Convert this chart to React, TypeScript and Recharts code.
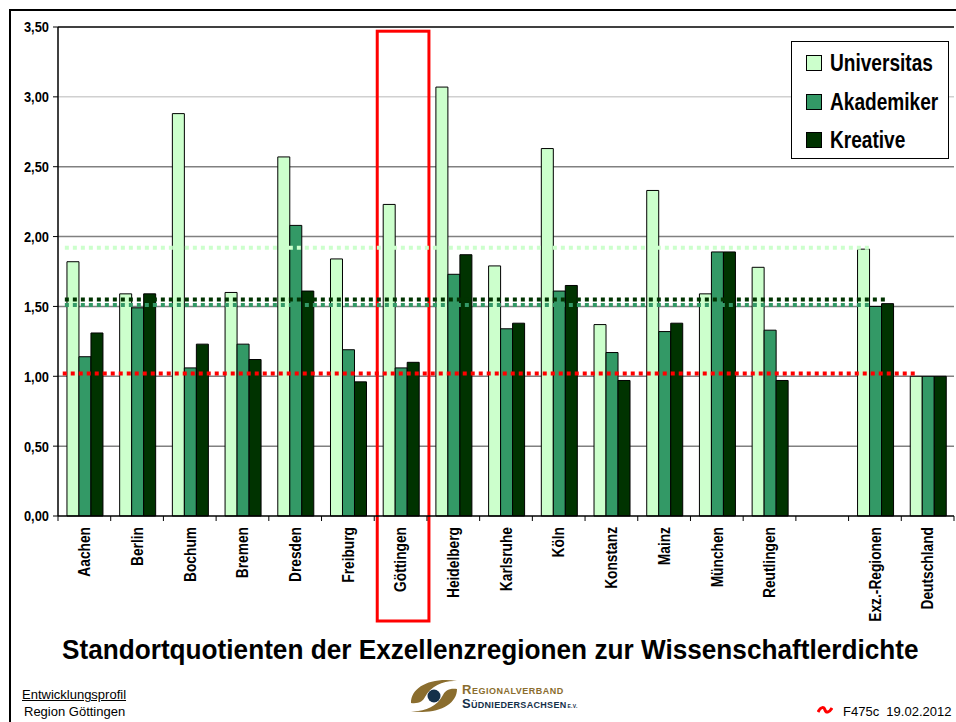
import { Bar, CartesianGrid, ComposedChart, ReferenceArea, ReferenceLine, XAxis, YAxis } from 'recharts'

const regions = [
  'Aachen',
  'Berlin',
  'Bochum',
  'Bremen',
  'Dresden',
  'Freiburg',
  'Göttingen',
  'Heidelberg',
  'Karlsruhe',
  'Köln',
  'Konstanz',
  'Mainz',
  'München',
  'Reutlingen',
  ' ',
  'Exz.-Regionen',
  'Deutschland',
]
const universitas = [1.82, 1.59, 2.88, 1.6, 2.57, 1.84, 2.23, 3.07, 1.79, 2.63, 1.37, 2.33, 1.59, 1.78, null, 1.91, 1.0]
const akademiker = [1.14, 1.49, 1.06, 1.23, 2.08, 1.19, 1.06, 1.73, 1.34, 1.61, 1.17, 1.32, 1.89, 1.33, null, 1.5, 1.0]
const kreative = [1.31, 1.59, 1.23, 1.12, 1.61, 0.96, 1.1, 1.87, 1.38, 1.65, 0.97, 1.38, 1.89, 0.97, null, 1.52, 1.0]

const seriesKeys = ['universitas', 'akademiker', 'kreative']
const seriesNames = ['Universitas', 'Akademiker', 'Kreative']
const seriesColors = ['#ccffcc', '#339966', '#003300']

const yTicks = [0, 0.5, 1, 1.5, 2, 2.5, 3, 3.5]
const gridColors = ['none', '#808080', '#808080', '#808080', '#808080', '#808080', '#d0d0d0', '#000000']

// dotted average lines, start/end given in category slots
const avgValues = [1.92, 1.51, 1.55, 1.02]
const avgFrom = [0.13, 0.13, 0.13, 0.09]
const avgTo = [15.41, 15.41, 15.72, 16.27]
const avgColors = ['#ccffcc', '#339966', '#003300', '#ff0000']

const highlighted = 'Göttingen'

const data = regions.map((region, i) => ({
  region,
  universitas: universitas[i],
  akademiker: akademiker[i],
  kreative: kreative[i],
}))

const CHART_W = 956
const MARGIN = { top: 27, right: 2, left: 10, bottom: 0 }
const Y_AXIS_W = 48
const slotW = (CHART_W - MARGIN.left - MARGIN.right - Y_AXIS_W) / regions.length

const sans = "'Liberation Sans', Arial, sans-serif"
const fmt = (v: number) => v.toFixed(2).replace('.', ',')

function RegionTick({ x, y, payload, index }: { x: number; y: number; payload: { value: string }; index: number }) {
  const axisY = y - 8
  const last = index === regions.length - 1
  return (
    <g>
      <line x1={x - slotW / 2} x2={x - slotW / 2} y1={axisY} y2={axisY + 5} stroke="#000" />
      {last ? <line x1={x + slotW / 2} x2={x + slotW / 2} y1={axisY} y2={axisY + 5} stroke="#000" /> : null}
      <text
        transform={`translate(${x},${y + 3}) rotate(-90) scale(0.86,1)`}
        textAnchor="end"
        dy="0.36em"
        fontFamily={sans}
        fontWeight="bold"
        fontSize={16}
        fill="#000"
      >
        {payload.value}
      </text>
    </g>
  )
}

function ValueTick({ x, y, payload }: { x: number; y: number; payload: { value: number } }) {
  return (
    <text
      transform={`translate(${x},${y}) scale(0.86,1)`}
      textAnchor="end"
      dy="0.36em"
      fontFamily={sans}
      fontWeight="bold"
      fontSize={15}
      fill="#000"
    >
      {fmt(payload.value)}
    </text>
  )
}

function Logo() {
  return (
    <svg width={48} height={48} viewBox="0 0 48 48" style={{ position: 'absolute', left: 411, top: 673 }}>
      <path d="M0 30 C0 14 20 4 46 8 C34 7 20 12 14 24 C12 28 8 31 0 30 Z" fill="#8a6d2e" />
      <path d="M46 16 C46 32 26 42 0 38 C12 39 26 34 32 22 C34 18 38 15 46 16 Z" fill="#8a6d2e" />
      <circle cx={23} cy={23} r={6.5} fill="#14304a" />
    </svg>
  )
}

export default function App() {
  return (
    <div style={{ position: 'absolute', left: 0, top: 0, width: 956, height: 722, background: '#fff', overflow: 'hidden' }}>
      <div
        style={{
          position: 'absolute',
          left: 9,
          top: 9,
          width: 960,
          height: 720,
          borderTop: '2px solid #000',
          borderLeft: '2px solid #000',
        }}
      />
      <div style={{ position: 'absolute', left: 0, top: 0 }}>
        <ComposedChart
          width={CHART_W}
          height={640}
          data={data}
          margin={MARGIN}
          barCategoryGap="17%"
          barGap={0}
        >
          <CartesianGrid
            vertical={false}
            horizontal={(p: any) => (
              <line
                key={p.key}
                x1={p.x1}
                x2={p.x2}
                y1={p.y1}
                y2={p.y2}
                stroke={gridColors[p.index] ?? '#808080'}
                strokeWidth={1.5}
              />
            )}
          />
          <XAxis
            dataKey="region"
            interval={0}
            height={124}
            tickSize={6}
            tickMargin={2}
            tickLine={false}
            axisLine={{ stroke: '#000', strokeWidth: 1.5 }}
            tick={(props: any) => <RegionTick {...props} />}
          />
          <YAxis
            domain={[0, 3.5]}
            ticks={yTicks}
            width={Y_AXIS_W}
            tickSize={5}
            tickMargin={4}
            axisLine={{ stroke: '#000', strokeWidth: 1.5 }}
            tickLine={{ stroke: '#000' }}
            tick={(props: any) => <ValueTick {...props} />}
          />
          {seriesKeys.map((key, i) => (
            <Bar
              key={key}
              dataKey={key}
              name={seriesNames[i]}
              fill={seriesColors[i]}
              stroke="#000"
              strokeWidth={1}
              isAnimationActive={false}
            />
          ))}
          {avgValues.map((v, i) => (
            <ReferenceLine
              key={i}
              y={v}
              shape={(p: any) => {
                const w = (p.x2 - p.x1) / regions.length
                return (
                  <line
                    x1={p.x1 + avgFrom[i] * w}
                    x2={p.x1 + avgTo[i] * w}
                    y1={p.y1}
                    y2={p.y2}
                    stroke={avgColors[i]}
                    strokeWidth={4}
                    strokeDasharray="4 4"
                  />
                )
              }}
            />
          ))}
          <ReferenceArea
            x1={highlighted}
            x2={highlighted}
            y1={0}
            y2={3.47}
            ifOverflow="visible"
            shape={(p: any) => (
              <rect
                x={p.x + 3}
                y={p.y}
                width={p.width - 1}
                height={p.height + 105}
                fill="none"
                stroke="#ff0000"
                strokeWidth={3}
              />
            )}
          />
        </ComposedChart>
      </div>

      <div
        style={{
          position: 'absolute',
          left: 791,
          top: 41,
          width: 158,
          height: 118,
          border: '1px solid #000',
          background: '#fff',
          boxSizing: 'border-box',
        }}
      >
        {seriesNames.map((name, i) => (
          <div
            key={name}
            style={{
              position: 'absolute',
              left: 14,
              top: 12 + i * 38.5,
              display: 'flex',
              alignItems: 'center',
              fontFamily: sans,
              fontWeight: 'bold',
              fontSize: 23,
              lineHeight: '18px',
              color: '#000',
              whiteSpace: 'nowrap',
            }}
          >
            <span
              style={{
                display: 'inline-block',
                width: 14,
                height: 14,
                background: seriesColors[i],
                border: '1px solid #000',
                marginRight: 8,
              }}
            />
            <span style={{ display: 'inline-block', transform: 'scaleX(0.83)', transformOrigin: 'left center' }}>{name}</span>
          </div>
        ))}
      </div>

      <div
        style={{
          position: 'absolute',
          left: 62,
          top: 634,
          whiteSpace: 'nowrap',
          transform: 'scaleX(0.935)',
          transformOrigin: 'left top',
          fontFamily: sans,
          fontWeight: 'bold',
          fontSize: 28,
          color: '#000',
        }}
      >
        Standortquotienten der Exzellenzregionen zur Wissenschaftlerdichte
      </div>

      <div style={{ position: 'absolute', left: 22, top: 686, fontFamily: sans, fontSize: 13, lineHeight: '17px', color: '#000' }}>
        <div style={{ textDecoration: 'underline' }}>Entwicklungsprofil</div>
        <div style={{ marginLeft: 2 }}>Region Göttingen</div>
      </div>

      <Logo />
      <div
        style={{
          position: 'absolute',
          left: 462,
          top: 683,
          fontFamily: sans,
          fontWeight: 'bold',
          fontSize: 13,
          fontVariant: 'small-caps',
          lineHeight: '14px',
          whiteSpace: 'nowrap',
        }}
      >
        <div style={{ letterSpacing: 0.5, color: '#8a6d2e' }}>Regionalverband</div>
        <div style={{ letterSpacing: 0.3, color: '#14304a' }}>
          Südniedersachsen<span style={{ fontSize: 5, marginLeft: 1 }}>E.V.</span>
        </div>
      </div>

      <svg width={16} height={8} viewBox="0 0 16 8" style={{ position: 'absolute', left: 817, top: 706 }}>
        <path d="M1 6 C4 0 7 1 8 4 C9 7 12 7 15 2" fill="none" stroke="#ff0000" strokeWidth={3} />
      </svg>
      <div style={{ position: 'absolute', left: 843, top: 704, fontFamily: sans, fontSize: 13, color: '#000', whiteSpace: 'pre' }}>
        F475c  19.02.2012
      </div>
    </div>
  )
}
